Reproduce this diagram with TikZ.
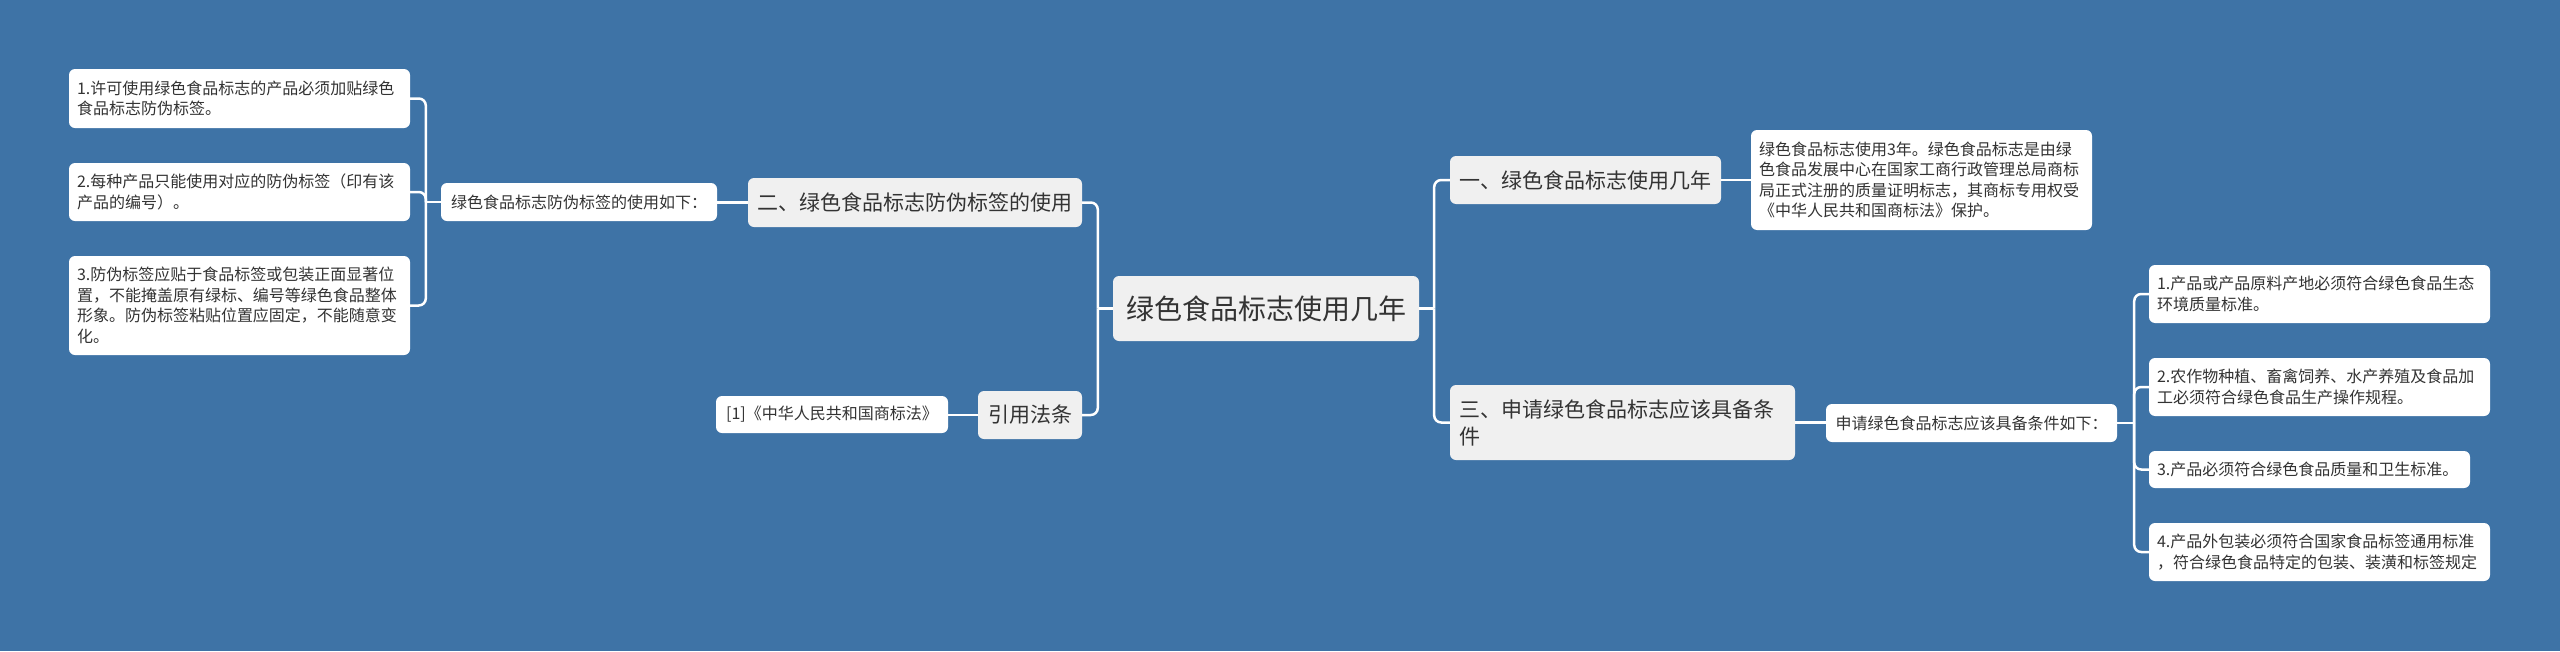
\documentclass[tikz,border=0pt]{standalone}
\usepackage{fontspec}
\setmainfont{Noto Sans CJK SC}
\usetikzlibrary{calc}
\definecolor{bg}{HTML}{3E73A6}
\definecolor{nodegray}{HTML}{F0F0F0}
\definecolor{txt}{HTML}{333333}
\begin{document}
\begin{tikzpicture}[x=1pt,y=-1pt,
  leaf/.style={rounded corners=6pt, fill=white, text=txt, inner xsep=8pt, inner ysep=0pt, align=left, font=\fontsize{16}{20.5}\selectfont},
  mid/.style={rounded corners=6pt, fill=white, text=txt, inner xsep=8pt, inner ysep=0pt, align=center, font=\fontsize{16}{20.5}\selectfont},
  branch/.style={rounded corners=6pt, fill=nodegray, text=txt, inner xsep=9pt, inner ysep=0pt, align=left, font=\fontsize{21}{27}\selectfont},
  rootbox/.style={rounded corners=6pt, fill=nodegray, text=txt, inner xsep=13pt, inner ysep=0pt, align=center, font=\fontsize{28}{34}\selectfont},
  conn/.style={draw=white, line width=2.5pt, rounded corners=7pt}]
\fill[bg] (0,0) rectangle (2560,651);
\useasboundingbox (0,0) rectangle (2560,651);

% root
\node[rootbox, minimum width=306pt, minimum height=65pt] (root) at (1266,308.5) {绿色食品标志使用几年};

% left side
\node[branch, align=center, minimum width=334pt, minimum height=49pt] (n2) at (915,202.5) {二、绿色食品标志防伪标签的使用};
\node[mid, minimum width=276pt, minimum height=38pt] (m2) at (579,202) {绿色食品标志防伪标签的使用如下：};
\node[leaf, text width=325pt, minimum height=59pt] (L1) at (239.5,98.5) {1.许可使用绿色食品标志的产品必须加贴绿色\\食品标志防伪标签。};
\node[leaf, text width=325pt, minimum height=58pt] (L2) at (239.5,192) {2.每种产品只能使用对应的防伪标签（印有该\\产品的编号）。};
\node[leaf, text width=325pt, minimum height=99pt] (L3) at (239.5,305.5) {3.防伪标签应贴于食品标签或包装正面显著位\\置，不能掩盖原有绿标、编号等绿色食品整体\\形象。防伪标签粘贴位置应固定，不能随意变\\化。};
\node[branch, align=center, minimum width=104pt, minimum height=48pt] (n4) at (1030,415) {引用法条};
\node[mid, minimum width=232pt, minimum height=37pt] (c4) at (832,414.5) {[1]《中华人民共和国商标法》};

% right side
\node[branch, align=center, minimum width=271pt, minimum height=48pt] (n1) at (1585.5,180) {一、绿色食品标志使用几年};
\node[leaf, text width=325pt, minimum height=100pt] (t1) at (1921.5,180) {绿色食品标志使用3年。绿色食品标志是由绿\\色食品发展中心在国家工商行政管理总局商标\\局正式注册的质量证明标志，其商标专用权受\\《中华人民共和国商标法》保护。};
\node[branch, text width=327pt, minimum height=75pt] (n3) at (1622.5,422.5) {三、申请绿色食品标志应该具备条\\件};
\node[mid, minimum width=291pt, minimum height=38pt] (m3) at (1971.5,423) {申请绿色食品标志应该具备条件如下：};
\node[leaf, text width=325pt, minimum height=58pt] (R1) at (2319.5,294) {1.产品或产品原料产地必须符合绿色食品生态\\环境质量标准。};
\node[leaf, text width=325pt, minimum height=58pt] (R2) at (2319.5,387) {2.农作物种植、畜禽饲养、水产养殖及食品加\\工必须符合绿色食品生产操作规程。};
\node[leaf, text width=305pt, minimum height=37pt] (R3) at (2309.5,469.5) {3.产品必须符合绿色食品质量和卫生标准。};
\node[leaf, text width=325pt, minimum height=58pt] (R4) at (2319.5,552) {4.产品外包装必须符合国家食品标签通用标准\\，符合绿色食品特定的包装、装潢和标签规定};

% connectors
\draw[conn] (root.west) -- ++(-15,0) coordinate (jl);
\draw[conn] (jl) |- (n2.east);
\draw[conn] (jl) |- (n4.east);
\draw[conn] (root.east) -- ++(15,0) coordinate (jr);
\draw[conn] (jr) |- (n1.west);
\draw[conn] (jr) |- (n3.west);

\draw[conn] (n2.west) -- (n2.west -| m2.east);
\draw[conn] (m2.west) -- ++(-15,0) coordinate (jm2);
\draw[conn] (jm2) |- (L1.east);
\draw[conn] (jm2) |- (L2.east);
\draw[conn] (jm2) |- (L3.east);
\draw[conn] (n4.west) -- (n4.west -| c4.east);

\draw[conn] (n1.east) -- (n1.east -| t1.west);
\draw[conn] (n3.east) -- (n3.east -| m3.west);
\draw[conn] (m3.east) -- ++(17,0) coordinate (jm3);
\draw[conn] (jm3) |- (R1.west);
\draw[conn] (jm3) |- (R2.west);
\draw[conn] (jm3) |- (R3.west);
\draw[conn] (jm3) |- (R4.west);
\end{tikzpicture}
\end{document}
